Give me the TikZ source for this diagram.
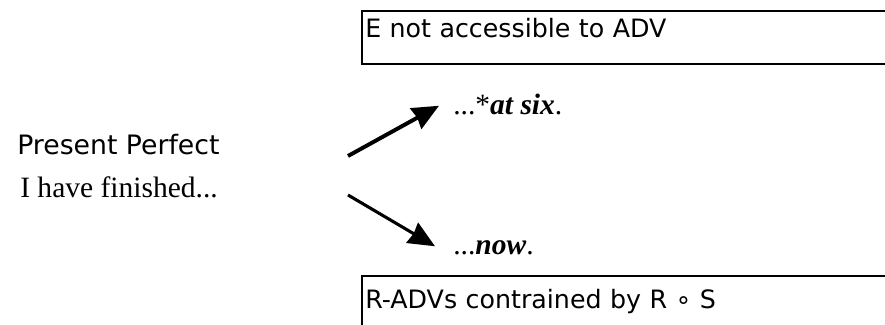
\documentclass[tikz,border=0pt]{standalone}
\usepackage{fontspec}
\setmainfont{Liberation Serif}
\newfontfamily\sansf{DejaVu Sans}
\usetikzlibrary{arrows.meta}
\tikzstyle{cadre} = [rectangle, draw=black, line width=1.5pt, anchor=north west, inner xsep=0.08cm, inner ysep=0pt, text width=13.84cm, align=left, font=\sansf\fontsize{18}{22}\selectfont]
\tikzstyle{titre} = [anchor=base west, inner sep=0pt, font=\sansf\fontsize{19}{23}\selectfont]
\tikzstyle{exemple} = [anchor=base west, inner sep=0pt, font=\fontsize{21}{25}\selectfont]
\tikzstyle{fleche} = [-{Triangle[length=0.66cm, width=0.58cm, inset=0.04cm]}]

\begin{document}
\begin{tikzpicture}

        \useasboundingbox (0,0) rectangle (22.125,-8.125);

        \node (haut) [cadre, text height=0.65cm, text depth=0.675cm] at (9.025,-0.25) {E not accessible to ADV};
        \node (bas)  [cadre, text height=0.8cm, text depth=0.7cm] at (9.025,-6.875) {R-ADVs contrained by R ∘ S};

        \node (pp)   [titre] at (0.425,-3.875) {Present Perfect};
        \node (fini) [exemple] at (0.5,-4.95) {I have finished...};

        \node (six)  [exemple] at (11.325,-2.875) {...*\textbf{\textit{at six}}.};
        \node (now)  [exemple] at (11.325,-6.375) {...\textbf{\textit{now}}.};

        \coordinate (d1) at (8.7,-3.9);
        \coordinate (d2) at (8.7,-4.875);

        \draw [fleche, line width=2.8pt] (d1) -- ([xshift=-0.35cm, yshift=-0.02cm]six.west);
        \draw [fleche, line width=2.2pt] (d2) -- ([xshift=-0.45cm, yshift=0.05cm]now.west);

    \end{tikzpicture}
\end{document}
